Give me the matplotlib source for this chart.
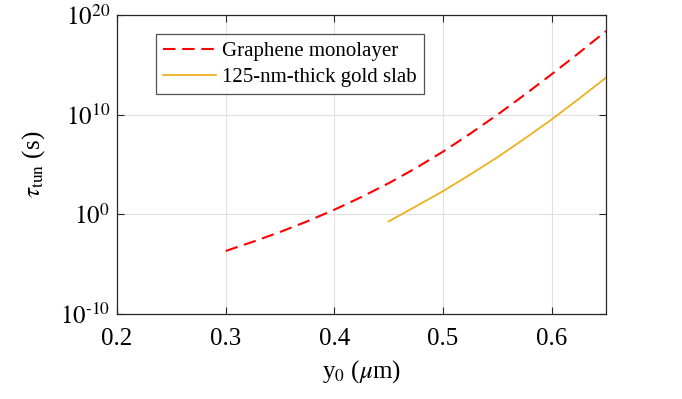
import numpy as np
import matplotlib
matplotlib.use('Agg')
import matplotlib.pyplot as plt
from matplotlib.ticker import FuncFormatter

plt.rcParams['font.family'] = ['Liberation Serif', 'DejaVu Serif']
plt.rcParams['mathtext.fontset'] = 'stix'

y0_graphene = [0.3, 0.325, 0.35, 0.375, 0.4, 0.425, 0.45, 0.475, 0.5, 0.525, 0.55, 0.575, 0.6, 0.625, 0.65]
exp_graphene = [-3.67, -2.75, -1.77, -0.7, 0.47, 1.75, 3.13, 4.65, 6.3, 8.1, 10.0, 12.0, 14.07, 16.2, 18.4]

y0_gold = [0.45, 0.475, 0.5, 0.525, 0.55, 0.575, 0.6, 0.625, 0.65]
exp_gold = [-0.7, 0.8, 2.33, 4.0, 5.73, 7.6, 9.53, 11.6, 13.73]

tau_graphene = 10.0 ** np.array(exp_graphene)
tau_gold = 10.0 ** np.array(exp_gold)

fig = plt.figure(figsize=(6.82, 3.99), dpi=100)
ax = fig.add_axes([0.1716, 0.213, 0.717, 0.749])

ax.semilogy(y0_graphene, tau_graphene, color='red', linestyle=(0, (6, 3.2)), lw=1.5,
            label='Graphene monolayer')
ax.semilogy(y0_gold, tau_gold, color='#EDB120', linestyle='-', lw=1.3,
            label='125-nm-thick gold slab')

ax.set_xlim(0.2, 0.65)
ax.set_ylim(1e-10, 1e20)
ax.set_xticks([0.2, 0.3, 0.4, 0.5, 0.6])
ax.set_xticklabels(['0.2', '0.3', '0.4', '0.5', '0.6'])
ax.set_yticks([1e-10, 1e0, 1e10, 1e20])
ax.yaxis.set_minor_locator(matplotlib.ticker.NullLocator())
ax.yaxis.set_major_formatter(FuncFormatter(
    lambda v, p: r'$10^{\text{%d}}$' % round(np.log10(v))))

ax.grid(True, color='#e0e0e0', lw=0.8)
ax.tick_params(which='both', direction='in', top=True, right=True, labelsize=18, length=5, width=0.8, color='#262626')
ax.tick_params(axis='x', pad=10)
ax.tick_params(axis='y', pad=5)
for s in ax.spines.values():
    s.set_color('#262626')
    s.set_linewidth(0.9)

ax.set_xlabel(r'y$_0$ ($\mu$m)', fontsize=18, labelpad=6)
ax.set_ylabel(r'$\tau_{\rm tun}$ (s)', fontsize=18, labelpad=9)

leg = ax.legend(loc='upper left', bbox_to_anchor=(0.08, 0.936), fontsize=15, frameon=True,
                fancybox=False, edgecolor='#262626', handlelength=2.5, borderpad=0.35,
                labelspacing=0.3, handletextpad=0.3, borderaxespad=0)
leg.get_frame().set_linewidth(0.9)

plt.savefig('out.png', dpi=100)
plt.close()
